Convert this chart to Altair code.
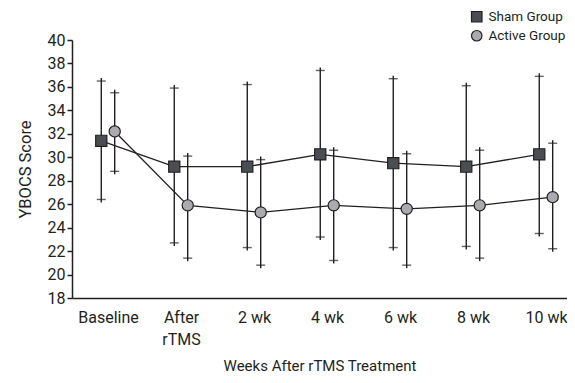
import altair as alt
import pandas as pd

weeks = ["Baseline", "After rTMS", "2 wk", "4 wk", "6 wk", "8 wk", "10 wk"]
groups = ["Sham Group", "Active Group"]
sham_mean = [31.4, 29.2, 29.2, 30.25, 29.5, 29.2, 30.25]
sham_hi = [36.5, 35.9, 36.2, 37.4, 36.7, 36.1, 36.9]
sham_lo = [26.4, 22.7, 22.3, 23.2, 22.3, 22.4, 23.5]
active_mean = [32.2, 25.9, 25.3, 25.9, 25.6, 25.9, 26.6]
active_hi = [35.5, 30.1, 29.8, 30.6, 30.3, 30.6, 31.2]
active_lo = [28.8, 21.4, 20.8, 21.2, 20.8, 21.4, 22.2]

rows = []
for i, w in enumerate(weeks):
    rows.append(dict(idx=i, week=w, group=groups[0], mean=sham_mean[i], lo=sham_lo[i], hi=sham_hi[i], off=-1))
    rows.append(dict(idx=i, week=w, group=groups[1], mean=active_mean[i], lo=active_lo[i], hi=active_hi[i], off=1))
df = pd.DataFrame(rows)

FONT = "Roboto"
INK = "#231f20"
label_expr = "[" + ",".join(
    "[" + ",".join("'" + p + "'" for p in w.split(" ")) + "]" if w.startswith("After") else "'" + w + "'"
    for w in weeks
) + "][datum.value]"

base = alt.Chart(df).transform_calculate(xpos="datum.idx + datum.off * 0.092")

xaxis = alt.Axis(values=list(range(len(weeks))), labelExpr=label_expr, ticks=False,
                 grid=False, title="Weeks After rTMS Treatment", labelPadding=11,
                 titlePadding=11, labelBaseline="top", labelLineHeight=22,
                 labelFont=FONT, titleFont=FONT, labelFontSize=16, titleFontSize=15,
                 labelOverlap=False)
yaxis = alt.Axis(values=list(range(18, 41, 2)), grid=False, tickSize=5,
                 title="YBOCS Score", titlePadding=14, labelPadding=2,
                 labelFont=FONT, titleFont=FONT, labelFontSize=16, titleFontSize=16.5,
                 labelOverlap=False)
xscale = alt.Scale(domain=[-0.493, 6.288], nice=False, zero=False)
yscale = alt.Scale(domain=[18, 40], nice=False, zero=False)

x = alt.X("xpos:Q", scale=xscale, axis=xaxis)


def Y(field):
    return alt.Y(field, scale=yscale, axis=yaxis)


leg = alt.Legend(title=None, orient="none", legendX=398, legendY=-30, direction="vertical",
                 symbolSize=110, labelFontSize=13.5, labelFont=FONT, rowPadding=3, labelOffset=5,
                 symbolStrokeWidth=1.2, symbolStrokeColor=INK)

rules = base.mark_rule(color=INK, strokeWidth=1.4, yOffset=3, y2Offset=-3).encode(
    x=x, y=Y("lo:Q"), y2="hi:Q")
ticks_lo = base.mark_tick(orient="horizontal", size=9, thickness=1.4, color=INK).encode(x=x, y=Y("lo:Q"))
ticks_hi = base.mark_tick(orient="horizontal", size=9, thickness=1.4, color=INK).encode(x=x, y=Y("hi:Q"))
lines = base.mark_line(color=INK, strokeWidth=1.3).encode(x=x, y=Y("mean:Q"), detail="group:N")
points = base.mark_point(filled=True, size=125, strokeWidth=1.2, opacity=1).encode(
    x=x, y=Y("mean:Q"),
    fill=alt.Fill("group:N", scale=alt.Scale(domain=groups, range=["#4a4e52", "#a9abae"]), legend=leg),
    stroke=alt.Stroke("group:N", scale=alt.Scale(domain=groups, range=[INK, INK]), legend=leg),
    shape=alt.Shape("group:N", scale=alt.Scale(domain=groups, range=["square", "circle"]), legend=leg),
)

chart = alt.layer(rules, ticks_lo, ticks_hi, lines, points).properties(
    width=495, height=258,
    autosize=alt.AutoSizeParams(type="none"),
    padding={"left": 64, "top": 32, "right": 0, "bottom": 77},
).configure_view(stroke=None).configure_axis(
    domainColor=INK, domainWidth=1.5, tickColor=INK, tickWidth=1.5,
    labelColor=INK, titleColor=INK, titleFontWeight="normal",
).configure_legend(labelColor=INK)

chart.save("out.html", embed_options={"renderer": "svg", "actions": False})
